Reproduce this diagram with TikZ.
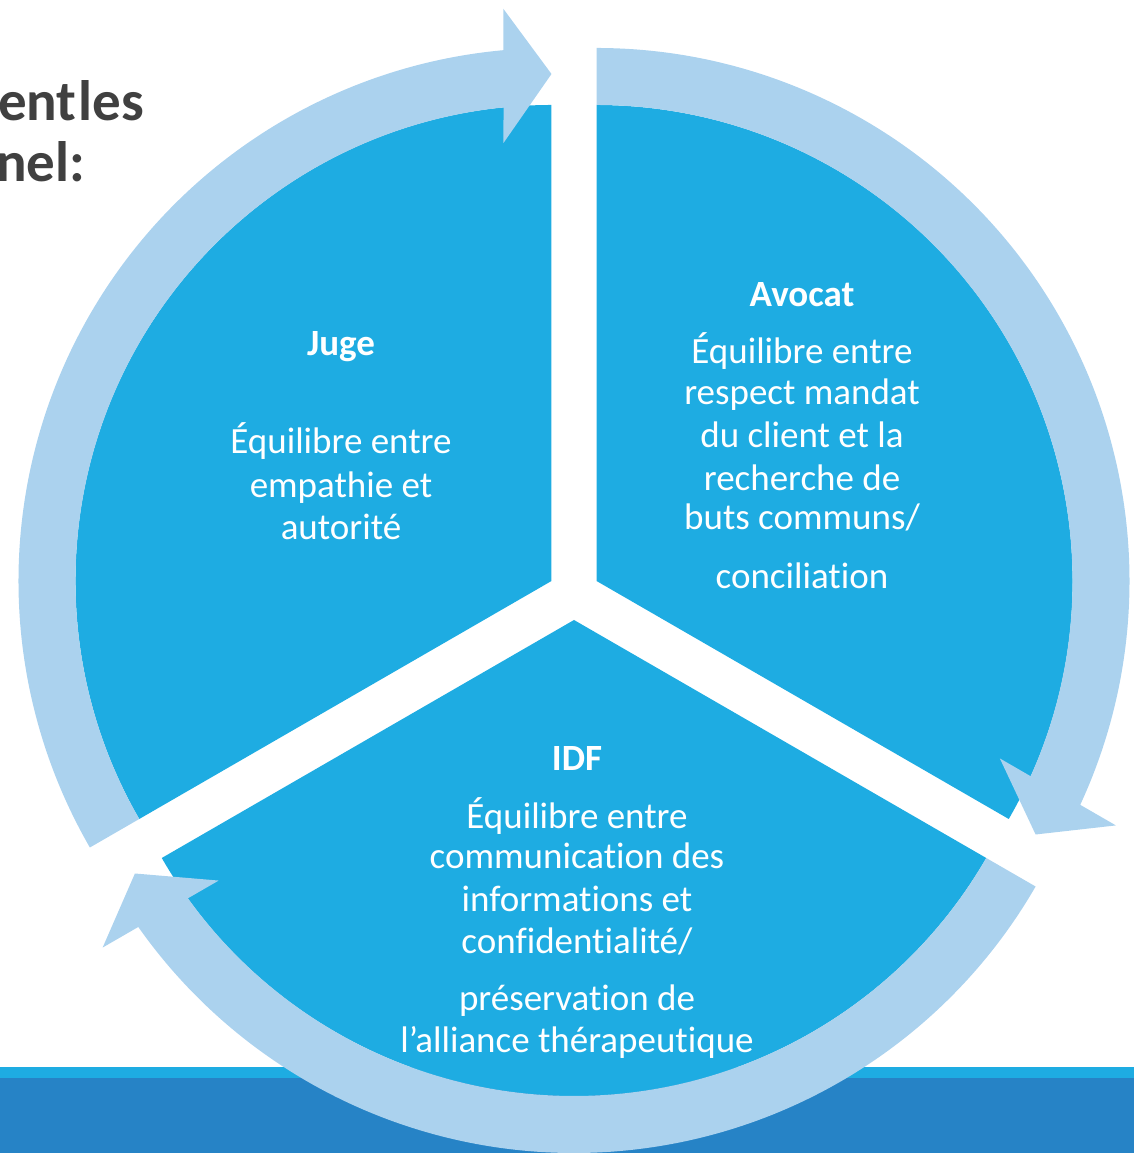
\documentclass[tikz,border=0pt]{standalone}
\usepackage{fontspec}
\setmainfont{Carlito}[Ligatures=NoCommon]
\definecolor{secblue}{HTML}{1EACE2}
\definecolor{ringblue}{HTML}{ABD2EE}
\definecolor{bandblue}{HTML}{2683C6}
\definecolor{titlegray}{HTML}{404040}
\tikzset{
  sector/.style={fill=secblue},
  ringfill/.style={fill=ringblue},
  body/.style={text=white, font=\fontsize{37}{43}\selectfont, anchor=base, inner sep=0pt},
  headtxt/.style={text=white, font=\bfseries\fontsize{37}{43}\selectfont, anchor=base, inner sep=0pt},
  titletext/.style={text=titlegray, font=\bfseries\fontsize{57}{62}\selectfont, anchor=base west, inner sep=0pt},
  cyclearrow/.pic={
    \fill[ringfill] (210:533) arc[start angle=210,end angle=95.167,radius=533]
      -- (-48,572) -- (0,507) -- (-48,438) -- (95.787:476)
      arc[start angle=95.787,end angle=210,radius=476] -- cycle;
  }
}
\begin{document}
\begin{tikzpicture}[x=1pt,y=1pt]
\useasboundingbox (0,0) rectangle (1134,1153);
\clip (0,0) rectangle (1134,1153);
% bottom band
\fill[bandblue] (0,0) rectangle (1134,75);
\fill[secblue] (0,75) rectangle (1134,86);
% title fragments
\node[titletext] (t1) at (-2,1032) {ent\kern2pt les};
\node[titletext] (t2) at (-4,971) {nel:};
% sector centres
\coordinate (cJ) at (551.48,572);
\coordinate (cA) at (596.52,572);
\coordinate (cI) at (574,533);
% sectors
\fill[sector] (cJ) -- ++(90:476) arc[start angle=90,end angle=210,radius=476] -- cycle;
\fill[sector] (cA) -- ++(-30:476) arc[start angle=-30,end angle=90,radius=476] -- cycle;
\fill[sector] (cI) -- ++(210:476) arc[start angle=210,end angle=330,radius=476] -- cycle;
% circular arrows
\pic at (cJ) {cyclearrow};
\pic[rotate=-120] at (cA) {cyclearrow};
\pic[rotate=-240] at (cI) {cyclearrow};
% Juge
\node[headtxt] (j0) at (341,797) {Juge};
\node[body] (j1) at (341,699) {Équilibre entre};
\node[body] (j2) at (341,655) {empathie et};
\node[body] (j3) at (341,613) {autorité};
% Avocat
\node[headtxt] (a0) at (802,846) {Avocat};
\node[body] (a1) at (802,789) {Équilibre entre};
\node[body] (a2) at (802,748) {respect mandat};
\node[body] (a3) at (802,705) {du client et la};
\node[body] (a4) at (802,662) {recherche de};
\node[body] (a5) at (802,623) {buts communs/};
\node[body] (a6) at (802,564) {conciliation};
% IDF
\node[headtxt] (i0) at (577,382) {IDF};
\node[body] (i1) at (577,324) {Équilibre entre};
\node[body] (i2) at (577,284) {communication des};
\node[body] (i3) at (577,241) {informations et};
\node[body] (i4) at (577,199) {confidentialité/};
\node[body] (i5) at (577,142) {préservation de};
\node[body] (i6) at (577,100) {l’alliance thérapeutique};
\end{tikzpicture}
\end{document}
